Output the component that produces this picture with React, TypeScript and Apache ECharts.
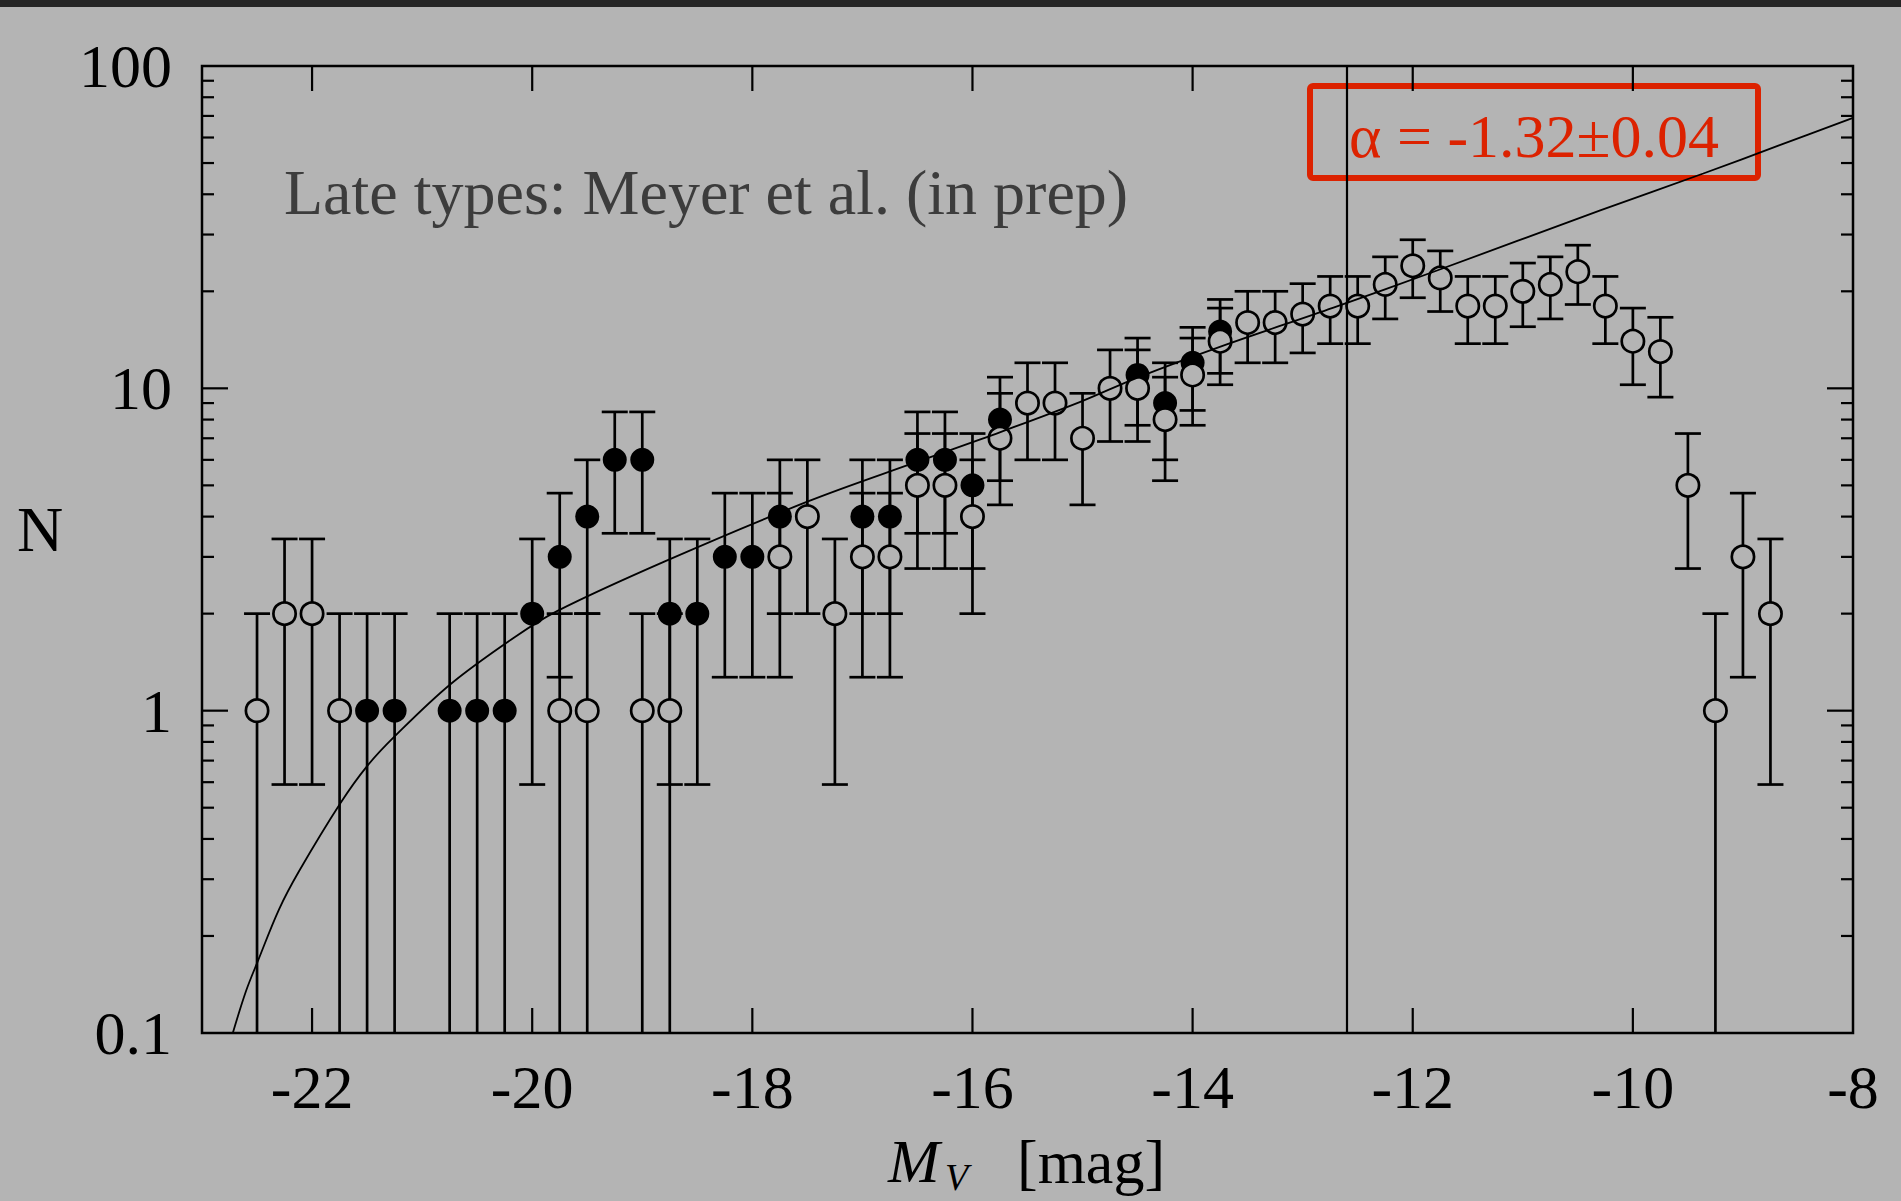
import React, { useEffect, useRef } from "react";
import * as echarts from "echarts";

// ---- data ----
const filledMag = [-21.5, -21.25, -20.75, -20.5, -20.25, -20, -19.75, -19.5, -19.25, -19, -18.75, -18.5, -18.25, -18, -17.75, -17, -16.75, -16.5, -16.25, -16, -15.75, -14.5, -14.25, -14, -13.75];
const filledN = [1, 1, 1, 1, 1, 2, 3, 4, 6, 6, 2, 2, 3, 3, 4, 4, 4, 6, 6, 5, 8, 11, 9, 12, 15];
const filledErr = [1, 1, 1, 1, 1, 1.41, 1.73, 2, 2.45, 2.45, 1.41, 1.41, 1.73, 1.73, 2, 2, 2, 2.45, 2.45, 2.24, 2.83, 3.32, 3, 3.46, 3.87];

const openMag = [-22.5, -22.25, -22, -21.75, -19.75, -19.5, -19, -18.75, -17.75, -17.5, -17.25, -17, -16.75, -16.5, -16.25, -16, -15.75, -15.5, -15.25, -15, -14.75, -14.5, -14.25, -14, -13.75, -13.5, -13.25, -13, -12.75, -12.5, -12.25, -12, -11.75, -11.5, -11.25, -11, -10.75, -10.5, -10.25, -10, -9.75, -9.5, -9.25, -9, -8.75];
const openN = [1, 2, 2, 1, 1, 1, 1, 1, 3, 4, 2, 3, 3, 5, 5, 4, 7, 9, 9, 7, 10, 10, 8, 11, 14, 16, 16, 17, 18, 18, 21, 24, 22, 18, 18, 20, 21, 23, 18, 14, 13, 5, 1, 3, 2];
const openErr = [1, 1.41, 1.41, 1, 1, 1, 1, 1, 1.73, 2, 1.41, 1.73, 1.73, 2.24, 2.24, 2, 2.65, 3, 3, 2.65, 3.16, 3.16, 2.83, 3.32, 3.74, 4, 4, 4.12, 4.24, 4.24, 4.58, 4.9, 4.69, 4.24, 4.24, 4.47, 4.58, 4.8, 4.24, 3.74, 3.61, 2.24, 1, 1.73, 1.41];

// fitted Schechter curve
const curveMag = [-22.72, -22.6, -22.49, -22.3, -22.12, -21.74, -21.5, -21.25, -20.74, -20.16, -19.77, -18.8, -17.5, -16.5, -15.74, -15.02, -14.5, -13.74, -12.72, -11.81, -10.29, -9.36, -8.66, -8];
const curveN = [0.1, 0.135, 0.168, 0.242, 0.317, 0.518, 0.673, 0.832, 1.21, 1.69, 2.04, 2.9, 4.45, 5.92, 7.33, 9.08, 10.8, 13.5, 17.8, 23.0, 35.7, 46.4, 56.9, 69];

const limitMag = -12.6;

const xTickValues = [-22, -20, -18, -16, -14, -12, -10];
const yMajorTicks = [1, 10];
const yMinorTicks = [0.2, 0.3, 0.4, 0.5, 0.6, 0.7, 0.8, 0.9, 2, 3, 4, 5, 6, 7, 8, 9, 20, 30, 40, 50, 60, 70, 80, 90];

const annotationText = "Late types: Meyer et al. (in prep)";
const alphaText = "α = -1.32±0.04";

const BG = "#b4b4b4";
const RED = "#dc2200";
const SERIF = "'Liberation Serif', 'DejaVu Serif', serif";

export default function App() {
  const ref = useRef<HTMLDivElement>(null);

  useEffect(() => {
    document.body.style.margin = "0";
    document.body.style.overflow = "hidden";
    const chart = echarts.init(ref.current!, null, { renderer: "svg" });

    const errRender = (params: any, api: any) => {
      const x = api.value(0);
      const n = api.value(1);
      const e = api.value(2);
      const cs = params.coordSys;
      const top = api.coord([x, n + e]);
      const low = n - e;
      const hasLow = low > 0.1;
      const bottomY = hasLow ? api.coord([x, low])[1] : cs.y + cs.height;
      const st = { stroke: "#000", lineWidth: 2.7 };
      const hw = 13;
      const children: any[] = [
        { type: "line", shape: { x1: top[0], y1: top[1], x2: top[0], y2: bottomY }, style: st },
        { type: "line", shape: { x1: top[0] - hw, y1: top[1], x2: top[0] + hw, y2: top[1] }, style: st },
      ];
      if (hasLow) {
        children.push({ type: "line", shape: { x1: top[0] - hw, y1: bottomY, x2: top[0] + hw, y2: bottomY }, style: st });
      }
      return { type: "group", children };
    };

    const tickRender = (params: any, api: any) => {
      const cs = params.coordSys;
      const len = api.value(2);
      const kind = api.value(3);
      const p = api.coord([api.value(0), api.value(1)]);
      const st = { stroke: "#000", lineWidth: 2.2 };
      if (kind === 0) {
        return {
          type: "group",
          children: [
            { type: "line", shape: { x1: cs.x, y1: p[1], x2: cs.x + len, y2: p[1] }, style: st },
            { type: "line", shape: { x1: cs.x + cs.width - len, y1: p[1], x2: cs.x + cs.width, y2: p[1] }, style: st },
          ],
        };
      }
      return {
        type: "group",
        children: [
          { type: "line", shape: { x1: p[0], y1: cs.y + cs.height - len, x2: p[0], y2: cs.y + cs.height }, style: st },
          { type: "line", shape: { x1: p[0], y1: cs.y, x2: p[0], y2: cs.y + len }, style: st },
        ],
      };
    };

    const tickData: number[][] = [
      ...yMinorTicks.map((v) => [-23, v, 12, 0]),
      ...yMajorTicks.map((v) => [-23, v, 26, 0]),
      ...xTickValues.map((v) => [v, 0.1, 25, 1]),
    ];

    const option: any = {
      animation: false,
      backgroundColor: BG,
      grid: {
        left: 202,
        right: 48,
        top: 66,
        bottom: 168,
        show: true,
        borderColor: "#000",
        borderWidth: 2.5,
        backgroundColor: "transparent",
      },
      xAxis: {
        type: "value",
        min: -23,
        max: -8,
        interval: 1,
        axisLine: { show: false },
        axisTick: { show: false },
        splitLine: { show: false },
        axisLabel: {
          margin: 23,
          fontSize: 62,
          fontFamily: SERIF,
          color: "#000",
          showMinLabel: true,
          showMaxLabel: true,
          formatter: (v: number) => (Math.round(v) % 2 === 0 ? String(Math.round(v)) : ""),
        },
      },
      yAxis: {
        type: "log",
        logBase: 10,
        min: 0.1,
        max: 100,
        axisLine: { show: false },
        axisTick: { show: false },
        splitLine: { show: false },
        minorTick: { show: false },
        axisLabel: {
          margin: 30,
          fontSize: 62,
          fontFamily: SERIF,
          color: "#000",
          formatter: (v: number) => String(Number(v.toPrecision(3))),
        },
      },
      series: [
        {
          type: "custom",
          silent: true,
          renderItem: tickRender,
          data: tickData,
          encode: { x: 0, y: 1 },
          z: 2,
        },
        {
          type: "custom",
          silent: true,
          renderItem: errRender,
          data: filledMag.map((m, i) => [m, filledN[i], filledErr[i]]),
          encode: { x: 0, y: 1 },
          clip: true,
          z: 3,
        },
        {
          type: "custom",
          silent: true,
          renderItem: errRender,
          data: openMag.map((m, i) => [m, openN[i], openErr[i]]),
          encode: { x: 0, y: 1 },
          clip: true,
          z: 3,
        },
        {
          type: "scatter",
          silent: true,
          symbol: "circle",
          symbolSize: 24,
          itemStyle: { color: "#000", opacity: 1 },
          data: filledMag.map((m, i) => [m, filledN[i]]),
          z: 4,
        },
        {
          type: "scatter",
          silent: true,
          symbol: "circle",
          symbolSize: 22.3,
          itemStyle: { color: BG, borderColor: "#000", borderWidth: 2.7, opacity: 1 },
          data: openMag.map((m, i) => [m, openN[i]]),
          z: 5,
        },
        {
          type: "line",
          silent: true,
          smooth: 0.35,
          showSymbol: false,
          symbol: "none",
          clip: true,
          lineStyle: { color: "#000", width: 1.8 },
          data: curveMag.map((m, i) => [m, curveN[i]]),
          z: 6,
          markLine: {
            silent: true,
            symbol: "none",
            label: { show: false },
            lineStyle: { color: "#000", width: 2.2, type: "solid" },
            data: [{ xAxis: limitMag }],
          },
        },
      ],
      graphic: [
        { type: "rect", x: 0, y: 0, shape: { x: 0, y: 0, width: 1901, height: 7 }, style: { fill: "#262626" }, silent: true },
        {
          type: "text",
          x: 284,
          y: 192,
          silent: true,
          style: { text: annotationText, fontSize: 64, fontFamily: SERIF, fill: "#3c3c3c", align: "left", verticalAlign: "middle" },
        },
        {
          type: "rect",
          silent: true,
          shape: { x: 1310, y: 86, width: 448, height: 92, r: 3 },
          style: { fill: "none", stroke: RED, lineWidth: 6 },
        },
        {
          type: "text",
          x: 1534,
          y: 136,
          silent: true,
          style: { text: alphaText, fontSize: 62, fontFamily: SERIF, fill: RED, align: "center", verticalAlign: "middle" },
        },
        {
          type: "text",
          x: 40,
          y: 529,
          silent: true,
          style: { text: "N", fontSize: 64, fontFamily: SERIF, fill: "#000", align: "center", verticalAlign: "middle" },
        },
        {
          type: "text",
          x: 888,
          y: 1161,
          silent: true,
          style: { text: "M", fontSize: 62, fontStyle: "italic", fontFamily: SERIF, fill: "#000", align: "left", verticalAlign: "middle" },
        },
        {
          type: "text",
          x: 945,
          y: 1177,
          silent: true,
          style: { text: "V", fontSize: 38, fontStyle: "italic", fontFamily: SERIF, fill: "#000", align: "left", verticalAlign: "middle" },
        },
        {
          type: "text",
          x: 1017,
          y: 1162,
          silent: true,
          style: { text: "[mag]", fontSize: 62, fontFamily: SERIF, fill: "#000", align: "left", verticalAlign: "middle" },
        },
      ],
    };

    chart.setOption(option);
    return () => chart.dispose();
  }, []);

  return <div ref={ref} style={{ position: "absolute", left: 0, top: 0, width: 1901, height: 1201 }} />;
}
